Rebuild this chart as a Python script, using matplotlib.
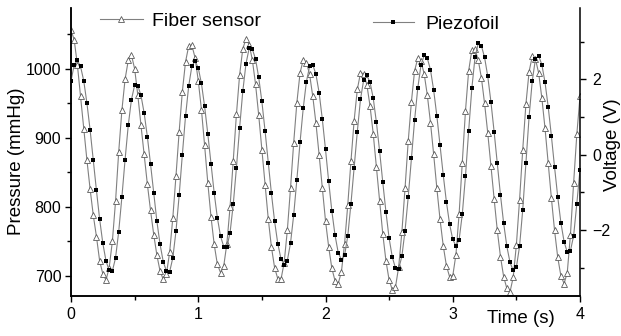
import numpy as np
import matplotlib
matplotlib.use("Agg")
import matplotlib.pyplot as plt
from matplotlib.ticker import MultipleLocator

plt.rcParams['font.family'] = ['Liberation Sans', 'DejaVu Sans']

# sampled every 0.025 s from 0 to 4 s
sample_interval = 0.025

# fiber sensor, pressure (mmHg)
fiber = [1056, 1042, 1006, 960, 913, 868, 826, 788, 757, 722,
         703, 694, 712, 750, 808, 880, 940, 985, 1012, 1020,
         1000, 962, 918, 876, 833, 795, 760, 730, 707, 695,
         703, 734, 784, 845, 909, 967, 1010, 1033, 1034, 1016,
         983, 941, 889, 835, 786, 746, 717, 705, 714, 747,
         800, 867, 934, 991, 1029, 1043, 1035, 1013, 978, 933,
         883, 832, 783, 742, 712, 696, 695, 719, 766, 827,
         893, 951, 994, 1013, 1009, 992, 960, 921, 875, 827,
         780, 742, 711, 693, 689, 706, 747, 803, 866, 925,
         970, 994, 993, 977, 946, 906, 858, 809, 761, 722,
         694, 680, 684, 713, 763, 827, 895, 952, 997, 1015,
         1011, 993, 962, 922, 876, 827, 782, 744, 715, 699,
         700, 731, 790, 864, 939, 997, 1027, 1028, 1013, 987,
         950, 907, 859, 812, 766, 728, 699, 682, 677, 698,
         745, 810, 883, 949, 996, 1018, 1014, 994, 958, 914,
         864, 813, 766, 727, 700, 689, 705, 760, 835, 905,
         960]

# piezofoil, voltage (V)
piezo = [1.95, 2.38, 2.50, 2.34, 1.96, 1.37, 0.66, -0.14, -0.95, -1.71,
         -2.35, -2.82, -3.07, -3.09, -2.74, -2.04, -1.12, -0.13, 0.78, 1.46,
         1.84, 1.83, 1.57, 1.10, 0.48, -0.25, -1.02, -1.77, -2.38, -2.84,
         -3.09, -3.11, -2.74, -2.03, -1.08, 0.00, 1.02, 1.82, 2.35, 2.48,
         2.30, 1.89, 1.28, 0.55, -0.24, -1.01, -1.67, -2.16, -2.44, -2.45,
         -2.07, -1.32, -0.35, 0.71, 1.68, 2.41, 2.82, 2.80, 2.54, 2.05,
         1.41, 0.63, -0.21, -1.03, -1.77, -2.36, -2.76, -2.92, -2.81, -2.35,
         -1.60, -0.66, 0.33, 1.23, 1.94, 2.34, 2.38, 2.13, 1.64, 0.94,
         0.14, -0.71, -1.50, -2.14, -2.60, -2.79, -2.67, -2.16, -1.30, -0.35,
         0.61, 1.47, 1.98, 2.10, 1.92, 1.50, 0.86, 0.10, -0.73, -1.52,
         -2.22, -2.72, -3.01, -3.03, -2.70, -2.02, -1.13, -0.10, 0.91, 1.76,
         2.37, 2.63, 2.56, 2.25, 1.71, 1.03, 0.26, -0.53, -1.25, -1.84,
         -2.25, -2.42, -2.26, -1.58, -0.57, 0.63, 1.76, 2.58, 2.95, 2.89,
         2.58, 2.08, 1.40, 0.61, -0.23, -1.07, -1.82, -2.43, -2.86, -3.07,
         -2.99, -2.43, -1.46, -0.22, 1.01, 1.96, 2.54, 2.62, 2.39, 1.92,
         1.27, 0.50, -0.33, -1.12, -1.81, -2.31, -2.59, -2.55, -2.15, -1.30,
         -0.40]

time = np.arange(len(fiber)) * sample_interval

fig = plt.figure(figsize=(6.21, 3.36), dpi=100)
ax = fig.add_axes([71/621, 1 - 296/336, 509/621, 288/336])
ax2 = ax.twinx()

line_col = '#808080'
l1, = ax.plot(time, fiber, color=line_col, lw=0.8, marker='^', ms=4.5,
              mfc='white', mec='#5a5a5a', mew=0.6, label='Fiber sensor')
l2, = ax2.plot(time, piezo, color=line_col, lw=0.8, marker='s', ms=2.5,
               mfc='black', mec='black', mew=0, label='Piezofoil')

ax.set_xlim(0, 4)
ax.set_ylim(671, 1088)
ax2.set_ylim(-3.75, 3.89)

ax.xaxis.set_major_locator(MultipleLocator(1))
ax.xaxis.set_minor_locator(MultipleLocator(0.5))
ax.yaxis.set_major_locator(MultipleLocator(100))
ax.yaxis.set_minor_locator(MultipleLocator(50))
ax2.yaxis.set_major_locator(MultipleLocator(2))
ax2.yaxis.set_minor_locator(MultipleLocator(1))

for a in (ax, ax2):
    a.spines['top'].set_visible(False)
    for s in a.spines.values():
        s.set_linewidth(1.1)
    a.tick_params(which='major', direction='out', length=4, width=1.0,
                  labelsize=11.5)
    a.tick_params(which='minor', direction='out', length=3, width=1.0)
ax.spines['right'].set_visible(False)
ax.tick_params(axis='y', pad=3)
ax.tick_params(axis='x', pad=4)
ax2.tick_params(axis='y', pad=5)

ax.set_ylabel('Pressure (mmHg)', fontsize=13.5)
ax.yaxis.set_label_coords(-0.09, 0.467)
ax2.set_ylabel('Voltage (V)', fontsize=13.5, rotation=90)
ax2.yaxis.set_label_coords(1.047, 0.524)
ax.set_xlabel('Time (s)', fontsize=13.5, va='top')
ax.xaxis.set_label_coords(0.884, -0.05)

leg1 = ax.legend(handles=[l1], loc='center left', bbox_to_anchor=(0.057, 0.955),
                 frameon=False, fontsize=14, numpoints=1, handlelength=2.2,
                 handletextpad=0.45, borderpad=0, borderaxespad=0)
leg2 = ax2.legend(handles=[l2], loc='center left', bbox_to_anchor=(0.593, 0.944),
                  frameon=False, fontsize=14, numpoints=1, handlelength=2.1,
                  handletextpad=0.6, borderpad=0, borderaxespad=0)

fig.savefig('out.png', dpi=100)
